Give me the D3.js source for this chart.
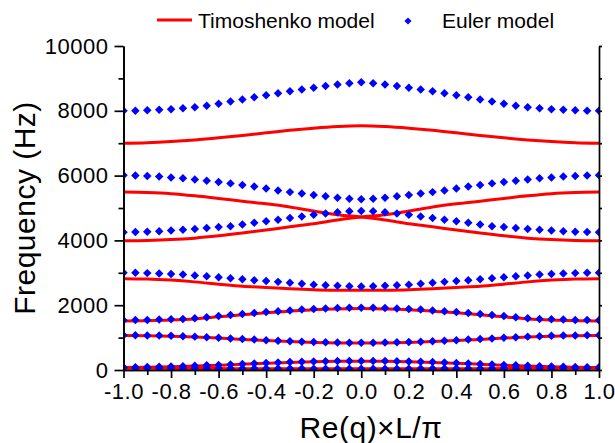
<!DOCTYPE html>
<html lang="en">
  <head>
    <meta charset="UTF-8" />
    <title>Timoshenko vs Euler band structure</title>
    <script src="https://d3js.org/d3.v7.min.js"></script>
    <style>
      body {
        margin: 0;
        background: #fff;
        font-family: 'Liberation Sans', Arial, sans-serif;
      }
      .axis path,
      .axis line {
        stroke: #000;
        stroke-width: 1.7;
      }
      .axis text {
        fill: #000;
        font-size: 22px;
        letter-spacing: 0.5px;
        font-family: 'Liberation Sans', Arial, sans-serif;
      }
      .title {
        font-size: 30px;
        letter-spacing: 0.5px;
        fill: #000;
      }
      .legend text {
        font-size: 21px;
        fill: #000;
      }
    </style>
  </head>
  <body>
    <div id="chart"></div>
    <script>
      // wave number axis, Euler points every 0.05
      const qEuler = [
        -1.0, -0.95, -0.9, -0.85, -0.8, -0.75, -0.7, -0.65, -0.6, -0.55, -0.5,
        -0.45, -0.4, -0.35, -0.3, -0.25, -0.2, -0.15, -0.1, -0.05, 0.0, 0.05,
        0.1, 0.15, 0.2, 0.25, 0.3, 0.35, 0.4, 0.45, 0.5, 0.55, 0.6, 0.65, 0.7,
        0.75, 0.8, 0.85, 0.9, 0.95, 1.0,
      ];
      // Timoshenko curves sampled every 0.1
      const qTimo = [
        -1.0, -0.9, -0.8, -0.7, -0.6, -0.5, -0.4, -0.3, -0.2, -0.1, 0.0, 0.1,
        0.2, 0.3, 0.4, 0.5, 0.6, 0.7, 0.8, 0.9, 1.0,
      ];

      // Euler model branches (Hz)
      const euler1 = [8000, 8005, 8015, 8030, 8050, 8075, 8110, 8155, 8215, 8285, 8350, 8415, 8480, 8540, 8600, 8660, 8715, 8765, 8810, 8850, 8880, 8850, 8810, 8765, 8715, 8660, 8600, 8540, 8480, 8415, 8350, 8285, 8215, 8155, 8110, 8075, 8050, 8030, 8015, 8005, 8000];
      const euler2 = [6010, 6005, 5990, 5970, 5945, 5915, 5880, 5840, 5800, 5760, 5710, 5660, 5605, 5540, 5490, 5445, 5400, 5360, 5320, 5285, 5270, 5285, 5320, 5360, 5400, 5445, 5490, 5540, 5605, 5660, 5710, 5760, 5800, 5840, 5880, 5915, 5945, 5970, 5990, 6005, 6010];
      const euler3 = [4255, 4260, 4270, 4285, 4305, 4328, 4355, 4385, 4410, 4440, 4490, 4545, 4590, 4635, 4690, 4740, 4790, 4830, 4870, 4900, 4910, 4900, 4870, 4830, 4790, 4740, 4690, 4635, 4590, 4545, 4490, 4440, 4410, 4385, 4355, 4328, 4305, 4285, 4270, 4260, 4255];
      const euler4 = [3005, 3000, 2990, 2975, 2960, 2945, 2920, 2890, 2860, 2830, 2800, 2770, 2745, 2720, 2690, 2660, 2635, 2615, 2600, 2585, 2580, 2585, 2600, 2615, 2635, 2660, 2690, 2720, 2745, 2770, 2800, 2830, 2860, 2890, 2920, 2945, 2960, 2975, 2990, 3000, 3005];
      const euler5 = [1535, 1540, 1545, 1555, 1565, 1575, 1600, 1630, 1665, 1700, 1730, 1760, 1790, 1815, 1840, 1865, 1885, 1900, 1910, 1918, 1920, 1918, 1910, 1900, 1885, 1865, 1840, 1815, 1790, 1760, 1730, 1700, 1665, 1630, 1600, 1575, 1565, 1555, 1545, 1540, 1535];
      const euler6 = [1075, 1072, 1068, 1062, 1055, 1045, 1030, 1012, 995, 975, 955, 938, 920, 903, 888, 875, 862, 853, 846, 841, 840, 841, 846, 853, 862, 875, 888, 903, 920, 938, 955, 975, 995, 1012, 1030, 1045, 1055, 1062, 1068, 1072, 1075];
      const euler7 = [85, 88, 93, 100, 108, 118, 130, 143, 157, 172, 188, 203, 218, 232, 245, 256, 265, 272, 277, 280, 281, 280, 277, 272, 265, 256, 245, 232, 218, 203, 188, 172, 157, 143, 130, 118, 108, 100, 93, 88, 85];
      const euler8 = [65, 64, 63, 62, 60, 58, 56, 54, 52, 50, 48, 47, 46, 45, 44, 43, 42, 41, 40, 40, 40, 40, 40, 41, 42, 43, 44, 45, 46, 47, 48, 50, 52, 54, 56, 58, 60, 62, 63, 64, 65];

      // Timoshenko model branches (Hz); 2 and 3 cross at q = 0
      const timo1 = [7000, 7015, 7050, 7100, 7165, 7240, 7320, 7400, 7465, 7515, 7540, 7515, 7465, 7400, 7320, 7240, 7165, 7100, 7050, 7015, 7000];
      const timo2 = [5490, 5475, 5440, 5375, 5295, 5210, 5130, 5030, 4905, 4795, 4720, 4630, 4515, 4420, 4320, 4225, 4140, 4070, 4025, 4000, 3990];
      const timo3 = [3990, 4000, 4025, 4070, 4140, 4225, 4320, 4420, 4515, 4630, 4720, 4795, 4905, 5030, 5130, 5210, 5295, 5375, 5440, 5475, 5490];
      const timo4 = [2820, 2810, 2775, 2720, 2650, 2585, 2550, 2510, 2480, 2465, 2460, 2465, 2480, 2510, 2550, 2585, 2650, 2720, 2775, 2810, 2820];
      const timo5 = [1510, 1520, 1540, 1575, 1640, 1705, 1765, 1815, 1860, 1885, 1895, 1885, 1860, 1815, 1765, 1705, 1640, 1575, 1540, 1520, 1510];
      const timo6 = [1065, 1058, 1045, 1020, 985, 945, 910, 878, 852, 836, 830, 836, 852, 878, 910, 945, 985, 1020, 1045, 1058, 1065];
      const timo7 = [75, 83, 98, 120, 147, 178, 208, 235, 255, 267, 271, 267, 255, 235, 208, 178, 147, 120, 98, 83, 75];
      const timo8 = [55, 52, 49, 46, 43, 40, 38, 36, 35, 35, 35, 35, 35, 36, 38, 40, 43, 46, 49, 52, 55];

      const eulerBranches = [euler1, euler2, euler3, euler4, euler5, euler6, euler7, euler8];
      const timoBranches = [timo1, timo2, timo3, timo4, timo5, timo6, timo7, timo8];

      // ticks
      const xMajor = [-1.0, -0.8, -0.6, -0.4, -0.2, 0.0, 0.2, 0.4, 0.6, 0.8, 1.0];
      const xMajorLabels = ['-1.0', '-0.8', '-0.6', '-0.4', '-0.2', '0.0', '0.2', '0.4', '0.6', '0.8', '1.0'];
      const xMinor = [-0.9, -0.7, -0.5, -0.3, -0.1, 0.1, 0.3, 0.5, 0.7, 0.9];
      const yMajor = [0, 2000, 4000, 6000, 8000, 10000];
      const yMajorLabels = ['0', '2000', '4000', '6000', '8000', '10000'];
      const yMinor = [1000, 3000, 5000, 7000, 9000];

      const width = 615,
        height = 443;
      const plotLeft = 123.5,
        plotRight = 599,
        plotTop = 46,
        plotBottom = 370;

      const x = d3.scaleLinear().domain([-1, 1]).range([plotLeft, plotRight]);
      const y = d3.scaleLinear().domain([0, 10000]).range([plotBottom, plotTop]);

      const svg = d3
        .select('#chart')
        .append('svg')
        .attr('width', width)
        .attr('height', height);

      svg
        .append('clipPath')
        .attr('id', 'plot-clip')
        .append('rect')
        .attr('x', plotLeft)
        .attr('y', plotTop - 6)
        .attr('width', plotRight - plotLeft)
        .attr('height', plotBottom - plotTop + 6);

      const plot = svg.append('g').attr('clip-path', 'url(#plot-clip)');

      // Timoshenko red curves
      const line = d3
        .line()
        .x((d) => x(d[0]))
        .y((d) => y(d[1]))
        .curve(d3.curveMonotoneX);

      plot
        .selectAll('path.timo')
        .data(timoBranches)
        .join('path')
        .attr('class', 'timo')
        .attr('d', (b) => line(b.map((v, i) => [qTimo[i], v])))
        .attr('fill', 'none')
        .attr('stroke', '#ff0000')
        .attr('stroke-width', 3);

      // Euler blue diamonds
      const diamond = d3.symbol().type(d3.symbolDiamond2).size(46);
      const eulerPts = eulerBranches.flatMap((b) =>
        b.map((v, i) => ({ q: qEuler[i], f: v }))
      );
      plot
        .selectAll('path.euler')
        .data(eulerPts)
        .join('path')
        .attr('class', 'euler')
        .attr('d', diamond)
        .attr('transform', (d) => `translate(${x(d.q)},${y(d.f)})`)
        .attr('fill', '#0000ff');

      // x axis
      svg
        .append('g')
        .attr('class', 'axis')
        .attr('transform', `translate(0,${plotBottom})`)
        .call(
          d3
            .axisBottom(x)
            .tickValues(xMajor)
            .tickFormat((d, i) => xMajorLabels[i])
            .tickSize(8)
            .tickSizeOuter(0)
            .tickPadding(5)
        );
      svg
        .append('g')
        .attr('class', 'axis')
        .attr('transform', `translate(0,${plotBottom})`)
        .call(d3.axisBottom(x).tickValues(xMinor).tickFormat('').tickSize(5).tickSizeOuter(0));

      // y axis
      svg
        .append('g')
        .attr('class', 'axis')
        .attr('transform', `translate(${plotLeft},0)`)
        .call(
          d3
            .axisLeft(y)
            .tickValues(yMajor)
            .tickFormat((d, i) => yMajorLabels[i])
            .tickSize(9)
            .tickSizeOuter(0)
            .tickPadding(6)
        );
      svg
        .append('g')
        .attr('class', 'axis')
        .attr('transform', `translate(${plotLeft},0)`)
        .call(d3.axisLeft(y).tickValues(yMinor).tickFormat('').tickSize(5).tickSizeOuter(0));

      // right frame line with short ticks
      svg
        .append('g')
        .attr('class', 'axis')
        .attr('transform', `translate(${plotRight},0)`)
        .call(
          d3
            .axisRight(y)
            .tickValues(yMajor.concat(yMinor))
            .tickFormat('')
            .tickSize(3)
            .tickSizeOuter(0)
        );

      // axis titles
      svg
        .append('text')
        .attr('class', 'title')
        .attr('transform', `translate(35,${(plotTop + plotBottom) / 2}) rotate(-90)`)
        .attr('text-anchor', 'middle')
        .text('Frequency (Hz)');
      svg
        .append('text')
        .attr('class', 'title')
        .attr('x', 371)
        .attr('y', 438)
        .attr('text-anchor', 'middle')
        .text('Re(q)×L/π');

      // legend
      const legend = svg.append('g').attr('class', 'legend');
      legend
        .append('line')
        .attr('x1', 157)
        .attr('x2', 192)
        .attr('y1', 20)
        .attr('y2', 20)
        .attr('stroke', '#ff0000')
        .attr('stroke-width', 3);
      legend.append('text').attr('x', 198).attr('y', 28).text('Timoshenko model');
      legend
        .append('path')
        .attr('d', d3.symbol().type(d3.symbolDiamond2).size(32)())
        .attr('transform', 'translate(408,21)')
        .attr('fill', '#0000ff');
      legend.append('text').attr('x', 442).attr('y', 28).text('Euler model');
    </script>
  </body>
</html>
